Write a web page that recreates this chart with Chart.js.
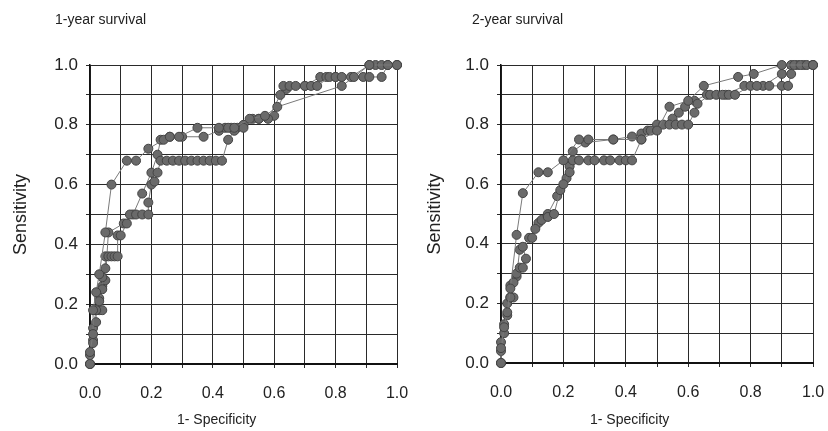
<!DOCTYPE html>
<html>
<head>
<meta charset="utf-8">
<script src="https://cdn.jsdelivr.net/npm/chart.js@4.4.0/dist/chart.umd.min.js"></script>
<style>
  html, body { margin: 0; padding: 0; background: #fff; }
  #wrap { position: relative; width: 828px; height: 431px; font-family: "Liberation Sans", Arial, sans-serif; }
  .box { position: absolute; top: 0; width: 414px; height: 431px; }
  .ttl { position: absolute; font-size: 14px; color: #222; white-space: nowrap; }
</style>
</head>
<body>
<div id="wrap">
  <div class="box" style="left:0"><canvas id="c1" width="414" height="431"></canvas></div>
  <div class="box" style="left:414px"><canvas id="c2" width="414" height="431"></canvas></div>
  <div class="ttl" style="left:55px;top:11px">1-year survival</div>
  <div class="ttl" style="left:472px;top:11px">2-year survival</div>
  <div class="ttl xt" style="left:177px;top:411px"></div>
  <div class="ttl xt" style="left:590px;top:411px"></div>
</div>
<script>
// 1-year survival curves: [1-specificity, sensitivity]
const year1A = [[0,0],[0,0.04],[0.01,0.1],[0.01,0.18],[0.02,0.24],[0.03,0.3],[0.05,0.44],[0.07,0.6],[0.12,0.68],[0.15,0.68],[0.19,0.72],[0.24,0.75],[0.26,0.76],[0.29,0.76],[0.35,0.79],[0.42,0.79],[0.45,0.79],[0.47,0.79],[0.52,0.82],[0.57,0.83],[0.61,0.86],[0.82,0.93],[0.86,0.96],[0.91,1],[1,1]];
const year1B = [[0,0],[0.01,0.07],[0.02,0.14],[0.02,0.18],[0.03,0.21],[0.04,0.25],[0.04,0.29],[0.05,0.32],[0.05,0.36],[0.06,0.36],[0.07,0.36],[0.08,0.36],[0.09,0.36],[0.09,0.43],[0.1,0.43],[0.12,0.47],[0.13,0.5],[0.15,0.5],[0.17,0.5],[0.19,0.5],[0.19,0.54],[0.2,0.6],[0.21,0.61],[0.22,0.64],[0.23,0.68],[0.25,0.68],[0.27,0.68],[0.29,0.68],[0.31,0.68],[0.33,0.68],[0.35,0.68],[0.37,0.68],[0.39,0.68],[0.41,0.68],[0.43,0.68],[0.45,0.75],[0.47,0.78],[0.5,0.79],[0.53,0.82],[0.55,0.82],[0.58,0.82],[0.62,0.9],[0.63,0.93],[0.65,0.93],[0.67,0.93],[0.7,0.93],[0.72,0.93],[0.74,0.93],[0.78,0.96],[0.8,0.96],[0.82,0.96],[0.89,0.96],[0.91,0.96],[0.95,0.96],[0.97,1],[1,1]];
const year1C = [[0,0],[0,0.03],[0.01,0.08],[0.01,0.12],[0.02,0.18],[0.03,0.18],[0.04,0.18],[0.03,0.22],[0.04,0.26],[0.05,0.28],[0.06,0.44],[0.11,0.47],[0.14,0.5],[0.17,0.57],[0.2,0.64],[0.22,0.7],[0.23,0.75],[0.26,0.76],[0.3,0.76],[0.37,0.76],[0.42,0.78],[0.44,0.79],[0.46,0.79],[0.48,0.79],[0.5,0.8],[0.55,0.82],[0.6,0.83],[0.64,0.92],[0.7,0.93],[0.75,0.96],[0.77,0.96],[0.8,0.96],[0.85,0.96],[0.91,1],[0.93,1],[0.95,1],[0.97,1],[1,1]];

// 2-year survival curves
const year2A = [[0,0],[0,0.05],[0.01,0.12],[0.02,0.17],[0.03,0.25],[0.05,0.43],[0.07,0.57],[0.12,0.64],[0.15,0.64],[0.2,0.68],[0.25,0.75],[0.28,0.75],[0.36,0.75],[0.45,0.75],[0.5,0.78],[0.54,0.86],[0.6,0.88],[0.65,0.93],[0.76,0.96],[0.81,0.97],[0.9,1],[1,1]];
const year2B = [[0,0],[0,0.04],[0.01,0.1],[0.02,0.16],[0.03,0.22],[0.04,0.27],[0.05,0.3],[0.06,0.32],[0.07,0.32],[0.08,0.35],[0.07,0.39],[0.1,0.42],[0.11,0.45],[0.13,0.48],[0.15,0.49],[0.17,0.5],[0.19,0.58],[0.2,0.6],[0.22,0.64],[0.23,0.68],[0.25,0.68],[0.28,0.68],[0.3,0.68],[0.33,0.68],[0.35,0.68],[0.38,0.68],[0.4,0.68],[0.42,0.68],[0.45,0.75],[0.48,0.78],[0.52,0.8],[0.54,0.8],[0.56,0.8],[0.58,0.8],[0.6,0.8],[0.62,0.84],[0.63,0.87],[0.67,0.9],[0.69,0.9],[0.71,0.9],[0.73,0.9],[0.75,0.9],[0.8,0.93],[0.82,0.93],[0.86,0.93],[0.9,0.93],[0.92,0.93],[0.93,0.97],[0.94,1],[0.96,1],[0.98,1],[1,1]];
const year2C = [[0,0],[0,0.07],[0.01,0.13],[0.02,0.2],[0.03,0.22],[0.04,0.22],[0.03,0.26],[0.05,0.29],[0.06,0.38],[0.09,0.42],[0.12,0.47],[0.15,0.5],[0.18,0.56],[0.21,0.62],[0.22,0.66],[0.23,0.71],[0.27,0.74],[0.36,0.75],[0.42,0.76],[0.45,0.77],[0.47,0.78],[0.5,0.8],[0.55,0.82],[0.57,0.84],[0.59,0.86],[0.62,0.88],[0.66,0.9],[0.72,0.9],[0.78,0.93],[0.84,0.93],[0.9,0.97],[0.93,1],[0.95,1],[0.97,1],[1,1]];

const xLabel = '1- Specificity';
const yLabel = 'Sensitivity';

const font = 'Liberation Sans, Arial, sans-serif';

// x-axis titles sit left of the plot centre in the original, so they are plain text
document.querySelectorAll('.xt').forEach(el => { el.textContent = xLabel; });

function series(pts) {
  return {
    data: pts.map(p => ({ x: p[0], y: p[1] })),
    showLine: true,
    borderColor: '#7a7a7a',
    borderWidth: 1,
    pointRadius: 4.5,
    pointBackgroundColor: '#6a6a6a',
    pointBorderColor: '#444',
    pointBorderWidth: 1,
    clip: false
  };
}

function makeChart(id, curves, yWidth, xHeight, padRight) {
  new Chart(document.getElementById(id), {
    type: 'scatter',
    data: { datasets: curves.map(series) },
    options: {
      responsive: false,
      animation: false,
      layout: { padding: { top: 65, right: padRight, left: 0, bottom: 0 } },
      plugins: { legend: { display: false }, tooltip: { enabled: false } },
      scales: {
        x: {
          min: 0, max: 1,
          // fixed axis height; let layout padding decide the right edge
          afterFit: s => { s.height = xHeight; s.paddingRight = 0; s.paddingLeft = 0; },
          ticks: {
            stepSize: 0.1, padding: 16, color: '#222',
            font: { family: font, size: 16 },
            maxRotation: 0,
            callback: (v, i) => i % 2 ? '' : v.toFixed(1)
          },
          grid: { color: '#2a2a2a', lineWidth: 1, tickLength: 4 },
          border: { color: '#111', width: 2 }
        },
        y: {
          min: 0, max: 1,
          afterFit: s => { s.width = yWidth; },
          ticks: {
            stepSize: 0.1, padding: 8, color: '#222',
            font: { family: font, size: 17 },
            callback: (v, i) => i % 2 ? '' : v.toFixed(1)
          },
          grid: { color: '#2a2a2a', lineWidth: 1, tickLength: 4 },
          border: { color: '#111', width: 1.5 },
          title: { display: true, text: yLabel, color: '#222', font: { family: font, size: 18 }, padding: { top: 10, bottom: 0 } }
        }
      }
    }
  });
}

makeChart('c1', [year1A, year1B, year1C], 90, 67, 17);
makeChart('c2', [year2A, year2B, year2C], 87, 68, 15);
</script>
</body>
</html>
